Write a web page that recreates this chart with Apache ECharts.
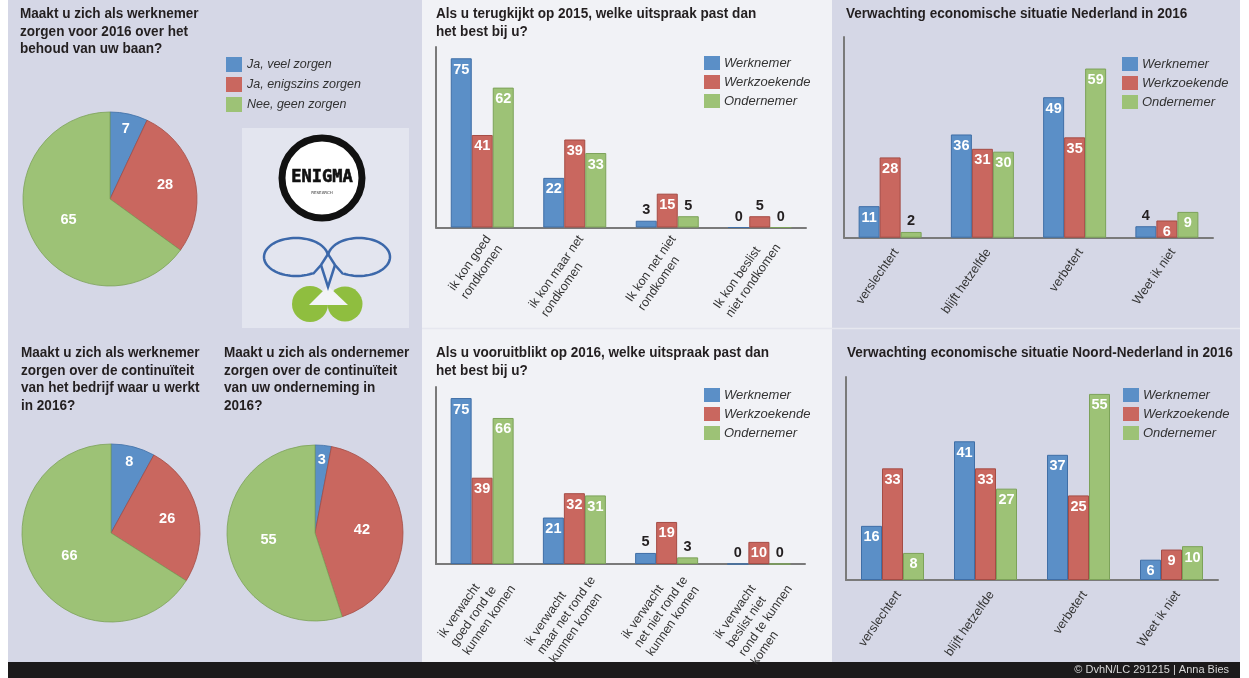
<!DOCTYPE html>
<html><head><meta charset="utf-8">
<script src="https://cdn.jsdelivr.net/npm/echarts@6/dist/echarts.min.js"></script>
<style>html,body{margin:0;padding:0;background:#fff;}#c{width:1249px;height:678px;}</style>
</head><body><div id="c"></div>
<script>
// ---------- DATA ----------
const pieNames = ['Ja, veel zorgen', 'Ja, enigszins zorgen', 'Nee, geen zorgen'];
const pieBaan = [7, 28, 65];
const pieBedrijf = [8, 26, 66];
const pieOnderneming = [3, 42, 55];

const groupNames = ['Werknemer', 'Werkzoekende', 'Ondernemer'];

const cats2015 = ['ik kon goed\nrondkomen', 'ik kon maar net\nrondkomen', 'Ik kon net niet\nrondkomen', 'Ik kon beslist\nniet rondkomen'];
const w2015 = [75, 22, 3, 0];
const wz2015 = [41, 39, 15, 5];
const o2015 = [62, 33, 5, 0];

const cats2016 = ['ik verwacht\ngoed rond te\nkunnen komen', 'ik verwacht\nmaar net rond te\nkunnen komen', 'ik verwacht\nnet niet rond te\nkunnen komen', 'ik verwacht\nbeslist niet\nrond te kunnen\nkomen'];
const w2016 = [75, 21, 5, 0];
const wz2016 = [39, 32, 19, 10];
const o2016 = [66, 31, 3, 0];

const catsEco = ['verslechtert', 'blijft hetzelfde', 'verbetert', 'Weet ik niet'];
const wNL = [11, 36, 49, 4];
const wzNL = [28, 31, 35, 6];
const oNL = [2, 30, 59, 9];
const wNNL = [16, 41, 37, 6];
const wzNNL = [33, 33, 25, 9];
const oNNL = [8, 27, 55, 10];

const titles = [
  'Maakt u zich als werknemer\nzorgen voor 2016 over het\nbehoud van uw baan?',
  'Als u terugkijkt op 2015, welke uitspraak past dan\nhet best bij u?',
  'Verwachting economische situatie Nederland in 2016',
  'Maakt u zich als werknemer\nzorgen over de continu\u00efteit\nvan het bedrijf waar u werkt\nin 2016?',
  'Maakt u zich als ondernemer\nzorgen over de continu\u00efteit\nvan uw onderneming in\n2016?',
  'Als u vooruitblikt op 2016, welke uitspraak past dan\nhet best bij u?',
  'Verwachting economische situatie Noord-Nederland in 2016'
];
const creditText = '\u00a9 DvhN/LC 291215 | Anna Bies';

// ---------- STYLE ----------
const FONT = "'Liberation Sans', Arial, sans-serif";
const fills = ['#5b8fc7', '#c9675f', '#9dc276'];
const borders = ['#3f6ea6', '#a54c45', '#7ca259'];
const LAV = '#d5d7e6', LIGHT = '#f1f2f6', DARK = '#231f20';
const titlePos = [[20, 5], [436, 5], [846, 5], [21, 344], [224, 344], [436, 344], [847, 344]];

const chart = echarts.init(document.getElementById('c'));

function barData(vals) {
  return vals.map(v => ({
    value: v,
    label: v <= 5 ? { position: 'top', color: DARK, distance: 3 } : { position: 'insideTop', color: '#fff', distance: 4 }
  }));
}

const grids = [
  { left: 436, top: 47, width: 370, height: 180.5 },
  { left: 436, top: 387, width: 369, height: 177 },
  { left: 844, top: 37, width: 369, height: 200.7 },
  { left: 846, top: 377, width: 372, height: 203 }
];
const gridCats = [cats2015, cats2016, catsEco, catsEco];
const gridMax = [80, 80, 70, 60];
const gridMargin = [5, 1, 8, 8];
const gridVals = [[w2015, wz2015, o2015], [w2016, wz2016, o2016], [wNL, wzNL, oNL], [wNNL, wzNNL, oNNL]];

const xAxes = gridCats.map((c, i) => ({
  type: 'category', gridIndex: i, data: c,
  axisLine: { lineStyle: { color: '#7a7a7a', width: 2 } },
  axisTick: { show: false },
  axisLabel: {
    rotate: 55, interval: 0, margin: gridMargin[i], verticalAlign: 'top',
    formatter: v => v.split('\n').map(s => '{a|' + s + '}').join('\n'),
    rich: { a: { align: 'left', fontFamily: FONT, fontSize: 12.5, color: '#333', lineHeight: 15 } }
  }
}));
const yAxes = gridMax.map((m, i) => ({
  type: 'value', gridIndex: i, min: 0, max: m,
  axisLine: { show: true, lineStyle: { color: '#7a7a7a', width: 2 } },
  axisTick: { show: false }, axisLabel: { show: false }, splitLine: { show: false }
}));

const series = [];
gridVals.forEach((vals, gi) => {
  vals.forEach((v, si) => {
    series.push({
      type: 'bar', name: groupNames[si], xAxisIndex: gi, yAxisIndex: gi,
      data: barData(v), barWidth: 21, barGap: '0%',
      itemStyle: { color: fills[si], borderColor: borders[si], borderWidth: 1 },
      label: { show: true, fontFamily: FONT, fontWeight: 'bold', fontSize: 14.5 },
      z: 5
    });
  });
});

// push labels of small slices outward (best-fit style placement)
function pieSeries(vals, center, r) {
  return {
    type: 'pie', center: center, radius: r, startAngle: 90, clockwise: true,
    data: vals.map((v, i) => ({ name: pieNames[i], value: v,
      itemStyle: { color: fills[i], borderColor: borders[i], borderWidth: 0.8 } })),
    label: { show: true, position: 'inside', formatter: '{c}', color: '#fff', fontFamily: FONT, fontWeight: 'bold', fontSize: 14.5 },
    labelLine: { show: false }, emphasis: { disabled: true }, z: 5,
    labelLayout: function (p) {
      const v = vals[p.dataIndex];
      const f = v < 10 ? 1.55 : (v < 35 ? 1.22 : 1.0);
      const lx = p.labelRect.x + p.labelRect.width / 2, ly = p.labelRect.y + p.labelRect.height / 2;
      return { x: center[0] + (lx - center[0]) * f, y: center[1] + (ly - center[1]) * f, align: 'center', verticalAlign: 'middle' };
    }
  };
}
series.push(pieSeries(pieBaan, [110, 199], 87));
series.push(pieSeries(pieBedrijf, [111, 533], 89));
series.push(pieSeries(pieOnderneming, [315, 533], 88));

function barLegend(left, top) {
  return { data: groupNames, left: left, top: top, orient: 'vertical', padding: 0,
    itemWidth: 16, itemHeight: 14, itemGap: 5, icon: 'rect', selectedMode: false,
    itemStyle: { borderWidth: 0 },
    textStyle: { fontFamily: FONT, fontSize: 13, fontStyle: 'italic', color: '#333', padding: [0, 0, 0, -1] } };
}

function ellipsePts(cx, cy, rx, ry) {
  const pts = [];
  for (let k = 0; k <= 72; k++) { const a = k / 72 * Math.PI * 2; pts.push([cx + rx * Math.cos(a), cy + ry * Math.sin(a)]); }
  return pts;
}

const graphics = [
  { type: 'rect', shape: { x: 8, y: 0, width: 414, height: 662 }, style: { fill: LAV }, z: -10 },
  { type: 'rect', shape: { x: 422, y: 0, width: 410, height: 662 }, style: { fill: LIGHT }, z: -10 },
  { type: 'rect', shape: { x: 832, y: 0, width: 408, height: 662 }, style: { fill: LAV }, z: -10 },
  { type: 'line', shape: { x1: 422, y1: 328.5, x2: 1240, y2: 328.5 }, style: { stroke: '#e6e7ef', lineWidth: 1.5 }, z: -9 },
  { type: 'rect', shape: { x: 8, y: 662, width: 1232, height: 16 }, style: { fill: '#1c1a1b' }, z: -9 },
  { type: 'text', right: 20, top: 664, style: { text: creditText, fill: '#d8d8d8', font: "11px " + FONT } },
  // logo box
  { type: 'rect', shape: { x: 242, y: 128, width: 167, height: 200 }, style: { fill: '#e3e5ef' }, z: -8 },
  { type: 'circle', shape: { cx: 322, cy: 178, r: 40 }, style: { fill: '#fff', stroke: '#111', lineWidth: 7 }, z: -7 },
  { type: 'text', x: 322, y: 178, style: { text: 'ENIGMA', fill: '#111', font: "bold 17px 'DejaVu Sans Mono', monospace", textAlign: 'center', textVerticalAlign: 'middle', stroke: '#111', lineWidth: 0.6 }, z: -6 },
  { type: 'text', x: 322, y: 193, style: { text: 'RESEARCH', fill: '#333', font: "4px 'DejaVu Sans'", textAlign: 'center', textVerticalAlign: 'middle' }, z: -6 },
  { type: 'polyline', shape: { points: ellipsePts(296, 257, 32, 19) }, style: { stroke: '#3c68aa', lineWidth: 2.5, fill: null }, z: -7 },
  { type: 'polyline', shape: { points: ellipsePts(359, 257, 31, 19) }, style: { stroke: '#3c68aa', lineWidth: 2.5, fill: null }, z: -7 },
  { type: 'polygon', shape: { points: [[312, 272], [328, 254], [345, 272], [328, 287]] }, style: { fill: '#e3e5ef' }, z: -6 },
  { type: 'polyline', shape: { points: [[313, 274], [321, 265], [328, 254], [335, 265], [343, 274]] }, style: { stroke: '#3c68aa', lineWidth: 2.5, fill: null }, z: -5 },
  { type: 'polyline', shape: { points: [[321, 265], [328, 287], [335, 265]] }, style: { stroke: '#3c68aa', lineWidth: 2.5, fill: null }, z: -5 },
  { type: 'circle', shape: { cx: 310, cy: 304, r: 18 }, style: { fill: '#8fbe3f' }, z: -7 },
  { type: 'circle', shape: { cx: 345, cy: 304, r: 17.5 }, style: { fill: '#8fbe3f' }, z: -7 },
  { type: 'polygon', shape: { points: [[328, 286], [309, 305], [348, 305]] }, style: { fill: '#f2f3f7' }, z: -6 }
];
titles.forEach((t, i) => {
  graphics.push({ type: 'text', x: titlePos[i][0], y: titlePos[i][1], scaleX: 0.935, z: 10,
    style: { text: t, fill: DARK, font: "bold 14.5px " + FONT, lineHeight: 17.7, textAlign: 'left', textVerticalAlign: 'top' } });
});

chart.setOption({
  animation: false,
  legend: [
    { data: pieNames, left: 226, top: 57, orient: 'vertical', padding: 0, itemWidth: 16, itemHeight: 15, itemGap: 5,
      icon: 'rect', selectedMode: false, itemStyle: { borderWidth: 0 },
      textStyle: { fontFamily: FONT, fontSize: 12.5, fontStyle: 'italic', color: '#333' } },
    barLegend(704, 56), barLegend(704, 388), barLegend(1122, 57), barLegend(1123, 388)
  ],
  grid: grids,
  xAxis: xAxes,
  yAxis: yAxes,
  series: series,
  graphic: graphics
});
</script></body></html>
